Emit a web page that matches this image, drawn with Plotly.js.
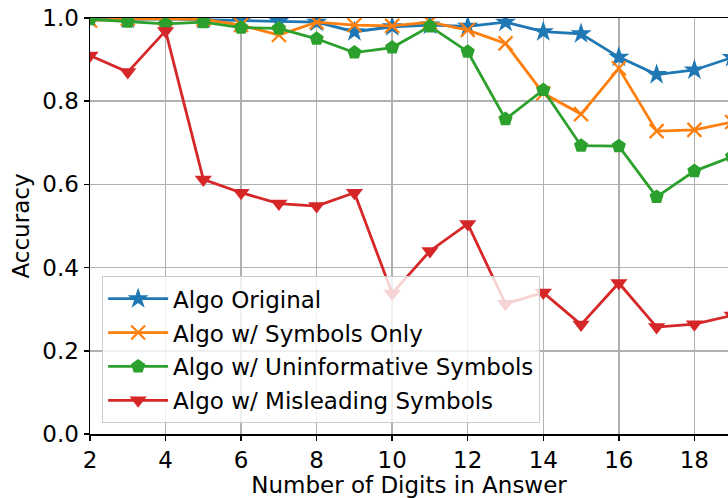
<!DOCTYPE html>
<html>
<head>
<meta charset="utf-8">
<script src="https://cdn.plot.ly/plotly-3.0.1.min.js"></script>
<style>html,body{margin:0;padding:0;background:#fff;}#chart{width:728px;height:498px;}</style>
</head>
<body>
<div id="chart"></div>
<script>
const digits = [2,3,4,5,6,7,8,9,10,11,12,13,14,15,16,17,18,19];
const algoOriginal = [0.998,0.997,0.998,0.996,0.993,0.992,0.990,0.967,0.979,0.983,0.980,0.990,0.967,0.962,0.906,0.864,0.875,0.905];
const symbolsOnly = [0.994,0.998,0.998,0.997,0.983,0.959,0.990,0.983,0.981,0.990,0.971,0.939,0.819,0.769,0.879,0.728,0.731,0.750];
const uninformative = [0.997,0.991,0.986,0.990,0.977,0.975,0.950,0.917,0.929,0.980,0.919,0.757,0.827,0.693,0.692,0.570,0.632,0.667];
const misleading = [0.910,0.870,0.969,0.612,0.580,0.554,0.548,0.580,0.338,0.440,0.505,0.313,0.340,0.263,0.363,0.257,0.264,0.285];
const seriesNames = ['Algo Original','Algo w/ Symbols Only','Algo w/ Uninformative Symbols','Algo w/ Misleading Symbols'];
const yTickVals = [0,0.2,0.4,0.6,0.8,1.0];
const yTickText = ['0.0','0.2','0.4','0.6','0.8','1.0'];
const xTickVals = [2,4,6,8,10,12,14,16,18];

const colors = ['#1f77b4','#ff7f0e','#2ca02c','#d62728'];
const symbols = ['star','x-thin','pentagon','triangle-down'];
const sizes = [16,14,15,15];
const data = [algoOriginal, symbolsOnly, uninformative, misleading].map((ys,i)=>({
  x: digits, y: ys, name: seriesNames[i], type:'scatter', mode:'lines+markers',
  legendgroup: 'g'+i,
  line:{color:colors[i], width:2.8},
  marker:{symbol:symbols[i], size:sizes[i], color:colors[i],
          line:{color:colors[i], width: symbols[i]==='x-thin'?2.2:0}}
}));

const font = {family:'DejaVu Sans, sans-serif', size:23, color:'#000'};
const layout = {
  width:728, height:498,
  margin:{l:90, r:0, t:18, b:64, pad:0},
  paper_bgcolor:'#fff', plot_bgcolor:'#fff',
  font: font,
  showlegend:true,
  legend:{x:0.019, y:0.026, xanchor:'left', yanchor:'bottom',
          bgcolor:'rgba(255,255,255,0.8)', bordercolor:'#cccccc', borderwidth:1,
          font:font, tracegroupgap:1, itemwidth:60},
  xaxis:{range:[2, 18.89], tickvals:xTickVals, ticks:'outside', ticklen:5, tickwidth:1.5, tickcolor:'#000',
         showline:true, linecolor:'#000', linewidth:1.5, mirror:true,
         showgrid:true, gridcolor:'#b0b0b0', gridwidth:1.5, zeroline:false,
         title:{text:'Number of Digits in Answer', font:font, standoff:6}, tickfont:font},
  yaxis:{range:[0,1], tickvals:yTickVals, ticktext:yTickText, ticks:'outside', ticklen:5, tickwidth:1.5, tickcolor:'#000',
         showline:true, linecolor:'#000', linewidth:1.5, mirror:false,
         showgrid:true, gridcolor:'#b0b0b0', gridwidth:1.5, zeroline:false,
         title:{text:'Accuracy', font:font, standoff:6}, tickfont:font}
};
Plotly.newPlot('chart', data, layout, {displayModeBar:false, staticPlot:true});
</script>
</body>
</html>
